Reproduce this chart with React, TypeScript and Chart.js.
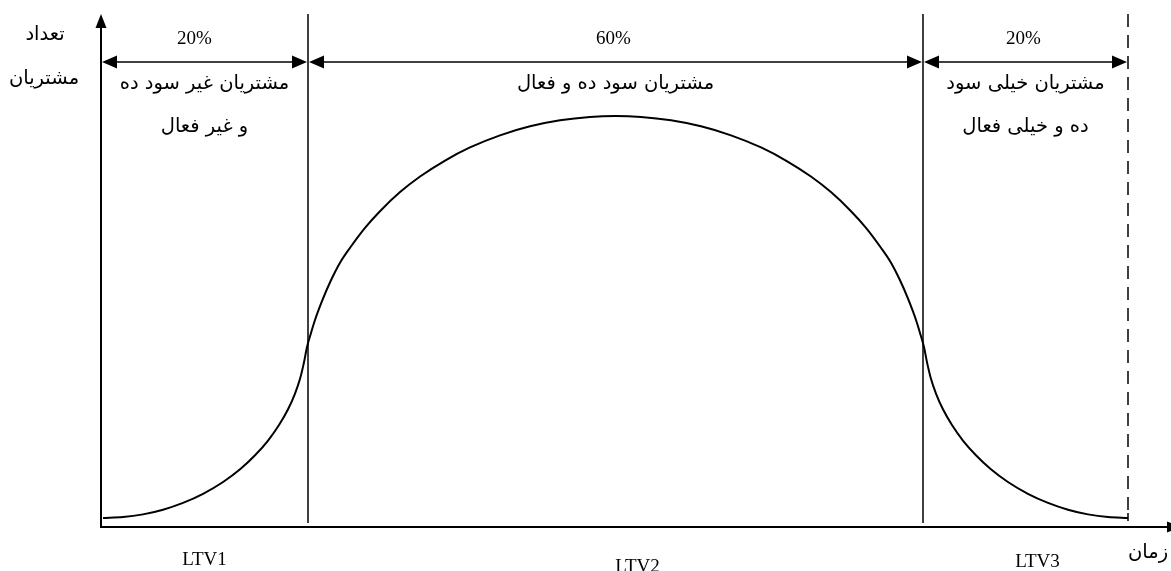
import React, { useEffect, useRef } from "react";
import { Chart, registerables } from "chart.js";

Chart.register(...registerables);

// time axis (0..100 = full lifetime) and number of customers
const timeValues = [
  0, 1.95, 3.9, 5.85, 7.8, 9.76, 11.71, 13.37, 14.83, 16.1, 17.17, 18.05, 18.73, 19.22, 19.61, 19.9,
  20.29, 20.68, 21.46, 22.24, 23.12, 24.1, 25.56, 27.02, 28.98, 30.93, 33.37, 35.8, 38.73, 41.66, 44.59, 47.51, 50,
  52.49, 55.41, 58.34, 61.27, 64.2, 66.63, 69.07, 71.02, 72.98, 74.44, 75.9, 76.88, 77.76, 78.54, 79.32, 79.71,
  80.1, 80.39, 80.78, 81.27, 81.95, 82.83, 83.9, 85.17, 86.63, 88.29, 90.24, 92.2, 94.15, 96.1, 98.05, 100,
];
const customerValues = [
  1.75, 1.93, 2.46, 3.37, 4.7, 6.47, 8.77, 11.25, 13.98, 16.86, 19.88, 22.94, 26.02, 28.89, 32.14, 35.09,
  37.82, 40.35, 44.5, 48.09, 51.52, 54.44, 58.32, 61.56, 65.28, 68.32, 71.44, 73.99, 76.35, 78.11, 79.28, 79.94, 80.12,
  79.94, 79.28, 78.11, 76.35, 73.99, 71.44, 68.32, 65.28, 61.56, 58.32, 54.44, 51.52, 48.09, 44.5, 40.35, 37.82,
  35.09, 32.14, 28.89, 26.02, 22.94, 19.88, 16.86, 13.98, 11.25, 8.77, 6.47, 4.7, 3.37, 2.46, 1.93, 1.75,
];

const segmentBounds = [0, 20, 80, 100];
const segmentShares = ["20%", "60%", "20%"];
const segmentNames = [
  ["مشتریان غیر سود ده", "و غیر فعال"],
  ["مشتریان سود ده و فعال"],
  ["مشتریان خیلی سود", "ده و خیلی فعال"],
];
const ltvLabels = ["LTV1", "LTV2", "LTV3"];
const yAxisTitle = ["تعداد", "مشتریان"];
const xAxisTitle = "زمان";

const LATIN = '"Liberation Serif", "Times New Roman", serif';
const PERSIAN = '"DejaVu Sans", "Noto Sans", sans-serif';

function arrowHead(ctx: CanvasRenderingContext2D, tipX: number, tipY: number, dx: number, dy: number, len: number, half: number) {
  const bx = tipX - dx * len;
  const by = tipY - dy * len;
  const px = -dy;
  const py = dx;
  ctx.beginPath();
  ctx.moveTo(tipX, tipY);
  ctx.lineTo(bx + px * half, by + py * half);
  ctx.lineTo(bx - px * half, by - py * half);
  ctx.closePath();
  ctx.fill();
}

const diagramPlugin = {
  id: "ltvDiagram",
  afterDatasetsDraw(chart: any) {
    const { ctx, chartArea, scales } = chart;
    const xs = scales.x;
    const left = chartArea.left;
    const right = chartArea.right;
    const top = chartArea.top;
    const bottom = chartArea.bottom;
    ctx.save();
    ctx.strokeStyle = "#000";
    ctx.fillStyle = "#000";

    // y axis with arrow
    ctx.lineWidth = 2;
    ctx.beginPath();
    ctx.moveTo(left, bottom + 1);
    ctx.lineTo(left, top + 8);
    ctx.stroke();
    arrowHead(ctx, left, top, 0, -1, 14, 5.5);

    // x axis with arrow (tip beyond the canvas edge)
    ctx.beginPath();
    ctx.moveTo(left, bottom);
    ctx.lineTo(right + 4, bottom);
    ctx.stroke();
    arrowHead(ctx, right + 10, bottom, 1, 0, 14, 5.5);

    // vertical boundaries
    ctx.lineWidth = 1.5;
    const xb1 = Math.round(xs.getPixelForValue(segmentBounds[1]));
    const xb2 = Math.round(xs.getPixelForValue(segmentBounds[2]));
    const xb3 = Math.round(xs.getPixelForValue(segmentBounds[3]));
    [xb1, xb2].forEach((x) => {
      ctx.beginPath();
      ctx.moveTo(x, top);
      ctx.lineTo(x, bottom - 4);
      ctx.stroke();
    });
    ctx.setLineDash([13, 8]);
    ctx.beginPath();
    ctx.moveTo(xb3, top);
    ctx.lineTo(xb3, bottom - 9);
    ctx.stroke();
    ctx.setLineDash([]);
    ctx.beginPath();
    ctx.moveTo(xb3, bottom - 14);
    ctx.lineTo(xb3, bottom - 6);
    ctx.stroke();

    // dimension lines
    const dimY = top + 48;
    const edges = [left, xb1, xb2, xb3];
    for (let i = 0; i < 3; i++) {
      const a = edges[i] + 1;
      const b = edges[i + 1] - 1;
      ctx.lineWidth = 1.5;
      ctx.beginPath();
      ctx.moveTo(a + 8, dimY);
      ctx.lineTo(b - 8, dimY);
      ctx.stroke();
      arrowHead(ctx, a, dimY, -1, 0, 15, 6.5);
      arrowHead(ctx, b, dimY, 1, 0, 15, 6.5);

      const cx = (edges[i] + edges[i + 1]) / 2;
      ctx.font = `19px ${LATIN}`;
      ctx.textAlign = "center";
      ctx.textBaseline = "middle";
      ctx.direction = "ltr";
      ctx.fillText(segmentShares[i], cx + (i === 0 ? -10 : -2), top + 25);

      ctx.font = `19.5px ${PERSIAN}`;
      ctx.direction = "rtl";
      segmentNames[i].forEach((line, k) => {
        ctx.fillText(line, cx, top + 70 + k * 43);
      });
    }

    // LTV labels
    ctx.font = `19px ${LATIN}`;
    ctx.direction = "ltr";
    ctx.textAlign = "center";
    const ltvOffsets = [0, 22, 12];
    const ltvDy = [33, 40, 35];
    for (let i = 0; i < 3; i++) {
      const cx = (edges[i] + edges[i + 1]) / 2 + ltvOffsets[i];
      ctx.fillText(ltvLabels[i], cx, bottom + ltvDy[i]);
    }

    // axis titles
    ctx.font = `19.5px ${PERSIAN}`;
    ctx.direction = "rtl";
    ctx.fillText(yAxisTitle[0], 45, 35);
    ctx.fillText(yAxisTitle[1], 44, 79);
    ctx.fillText(xAxisTitle, 1148, 553);

    ctx.restore();
  },
};

export default function App() {
  const canvasRef = useRef<HTMLCanvasElement | null>(null);

  useEffect(() => {
    const canvas = canvasRef.current;
    if (!canvas) return;
    const points = timeValues.map((t, i) => ({ x: t, y: customerValues[i] }));
    const chart = new Chart(canvas, {
      type: "line",
      data: {
        datasets: [
          {
            data: points,
            borderColor: "#000",
            borderWidth: 2,
            pointRadius: 0,
            cubicInterpolationMode: "monotone",
            fill: false,
            clip: false as any,
          },
        ],
      },
      options: {
        animation: false,
        responsive: true,
        maintainAspectRatio: false,
        layout: { padding: { left: 101, right: 0, top: 14, bottom: 44 } },
        plugins: {
          legend: { display: false },
          tooltip: { enabled: false },
        },
        scales: {
          x: { type: "linear", min: -0.2, max: 104.2, display: false },
          y: { type: "linear", min: 0, max: 100, display: false },
        },
      },
      plugins: [diagramPlugin],
    });
    return () => chart.destroy();
  }, []);

  return (
    <div style={{ position: "absolute", left: 0, top: 0, width: 1171, height: 571, background: "#fff" }}>
      <canvas ref={canvasRef} />
    </div>
  );
}
